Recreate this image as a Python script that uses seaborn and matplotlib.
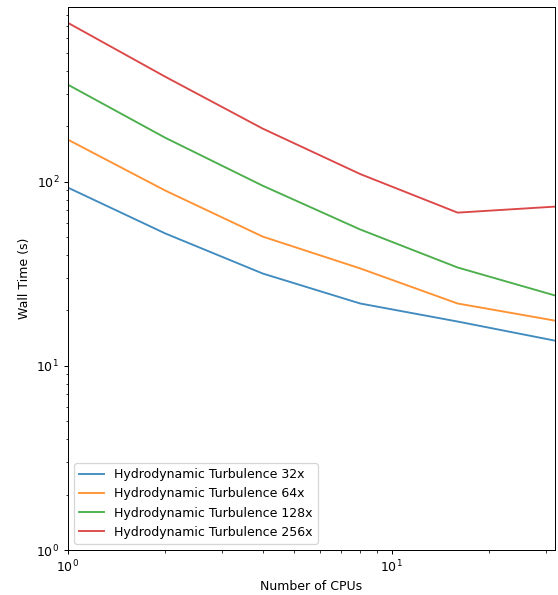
import numpy as np
import pandas as pd
import matplotlib
matplotlib.use("Agg")
import matplotlib.pyplot as plt
import seaborn as sns

# Scaling data
cpus = [1, 2, 4, 8, 16, 32]
labels = ['Hydrodynamic Turbulence 32x', 'Hydrodynamic Turbulence 64x',
          'Hydrodynamic Turbulence 128x', 'Hydrodynamic Turbulence 256x']
time_32 = [92.8, 52.3, 31.7, 21.8, 17.4, 13.7]
time_64 = [169, 89.4, 50.3, 33.8, 21.8, 17.6]
time_128 = [336, 173, 95, 55, 34.2, 24.1]
time_256 = [728, 371, 194, 110, 67.9, 73.2]

frames = []
for lab, vals in zip(labels, [time_32, time_64, time_128, time_256]):
    frames.append(pd.DataFrame({'cpus': cpus, 'time': vals, 'run': lab}))
df = pd.concat(frames, ignore_index=True)

DPI = 90
fig = plt.figure(figsize=(558 / DPI, 595 / DPI), dpi=DPI)
ax = fig.add_axes([68 / 558, 1 - 550 / 595, (555 - 68) / 558, (550 - 7) / 595])

sns.lineplot(data=df, x='cpus', y='time', hue='run', palette='tab10',
             alpha=0.85, ax=ax)

ax.set_xscale('log')
ax.set_yscale('log')
ax.set_xlim(1, 32)
ymax = ax.get_ylim()[1]
ax.set_ylim(1, ymax)
ax.set_xlabel('Number of CPUs')
ax.set_ylabel('Wall Time (s)')
ax.legend(loc='lower left', title=None)

fig.savefig('out.png', dpi=DPI)
